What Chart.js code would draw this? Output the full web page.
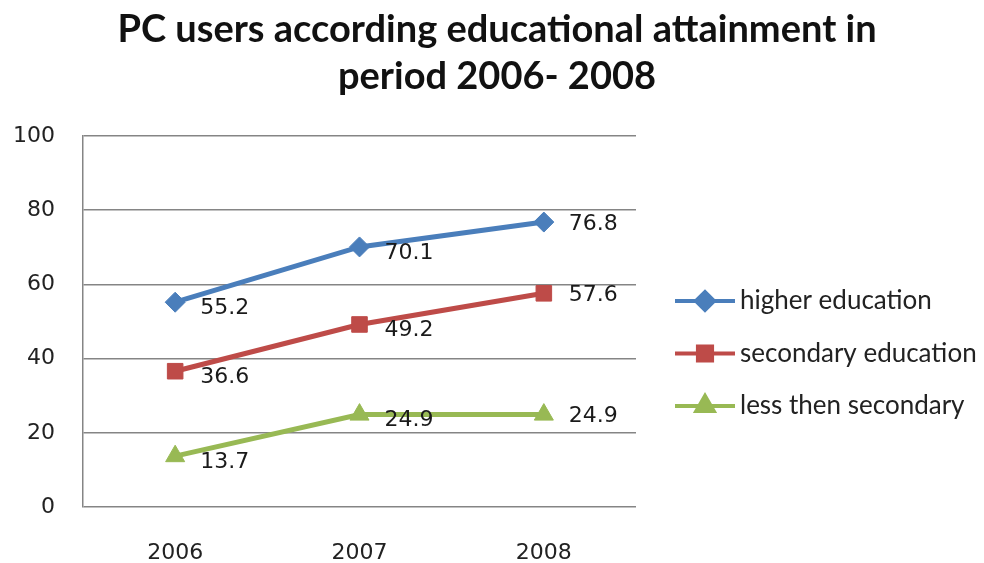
<!DOCTYPE html>
<html>
<head>
<meta charset="utf-8">
<script src="https://cdn.jsdelivr.net/npm/chart.js@4/dist/chart.umd.min.js"></script>
<style>
  html, body { margin: 0; padding: 0; background: #fff; }
  #wrap { width: 984px; height: 563px; }
</style>
</head>
<body>
<div id="wrap"><canvas id="grafica" width="984" height="563"></canvas></div>
<script>
// datos del grafico
const years = ['2006', '2007', '2008'];
const higherEducation = [55.2, 70.1, 76.8];
const secondaryEducation = [36.6, 49.2, 57.6];
const lessThenSecondary = [13.7, 24.9, 24.9];
const seriesNames = ['higher education', 'secondary education', 'less then secondary'];
const yTicks = [0, 20, 40, 60, 80, 100];
const titulo = ['PC users according educational attainment in', 'period 2006- 2008'];

const colores = ['#4a7ebb', '#be4b48', '#98b954'];
const marcas = ['rectRot', 'rect', 'triangle'];
const radios = [10, 11, 11];

// titulo centrado sobre todo el lienzo (no solo el area del grafico)
const tituloCentrado = {
    id: 'tituloCentrado',
    afterDraw(chart) {
        const ctx = chart.ctx;
        ctx.save();
        ctx.font = 'bold 34px Lato';
        // ajustar el tamano para que la primera linea mida ~767px
        const w = ctx.measureText(titulo[0]).width;
        const size = Math.round(34 * 767 / w);
        ctx.font = 'bold ' + size + 'px Lato';
        ctx.fillStyle = '#111';
        ctx.textAlign = 'center';
        ctx.textBaseline = 'middle';
        ctx.fillText(titulo[0], 497, 30);
        ctx.fillText(titulo[1], 497, 77);
        ctx.restore();
    }
};

// etiquetas de valor junto a cada punto
const etiquetas = {
    id: 'etiquetas',
    afterDatasetsDraw(chart) {
        const ctx = chart.ctx;
        ctx.save();
        ctx.font = '22px "DejaVu Sans"';
        ctx.fillStyle = '#1a1a1a';
        ctx.textAlign = 'left';
        ctx.textBaseline = 'middle';
        chart.data.datasets.forEach((ds, i) => {
            chart.getDatasetMeta(i).data.forEach((pt, j) => {
                const dy = j === ds.data.length - 1 ? 2 : 6;
                ctx.fillText(ds.data[j].toFixed(1), pt.x + 25, pt.y + dy);
            });
        });
        ctx.restore();
    }
};

// leyenda estilo excel a la derecha
const leyenda = {
    id: 'leyenda',
    afterDraw(chart) {
        const ctx = chart.ctx;
        ctx.save();
        chart.data.datasets.forEach((ds, i) => {
            const y = 301 + i * 52.5;
            ctx.strokeStyle = ds.borderColor;
            ctx.lineWidth = 4;
            ctx.beginPath();
            ctx.moveTo(675, y);
            ctx.lineTo(735, y);
            ctx.stroke();
            Chart.helpers.drawPoint(ctx, {
                pointStyle: ds.pointStyle,
                radius: ds.pointRadius - 1,
                borderWidth: 1
            }, 705, y);
            ctx.fillStyle = ds.borderColor;
            ctx.fill();
            ctx.font = '26px Lato';
            ctx.fillStyle = '#222';
            ctx.textBaseline = 'middle';
            ctx.fillText(ds.label, 740, y);
        });
        ctx.restore();
    }
};

const series = [higherEducation, secondaryEducation, lessThenSecondary];

new Chart(document.getElementById('grafica').getContext('2d'), {
    type: 'line',
    data: {
        labels: years,
        datasets: series.map((s, i) => ({
            label: seriesNames[i],
            data: s,
            borderColor: colores[i],
            backgroundColor: colores[i],
            borderWidth: 5,
            pointStyle: marcas[i],
            pointRadius: radios[i],
            pointBorderWidth: 1,
            tension: 0
        }))
    },
    options: {
        responsive: false,
        animation: false,
        layout: { padding: { left: 0, right: 348, top: 136, bottom: 0 } },
        plugins: {
            legend: { display: false },
            tooltip: { enabled: false },
            title: { display: false }
        },
        scales: {
            x: {
                offset: true,
                grid: { display: false, drawTicks: false },
                border: { display: false },
                ticks: {
                    padding: 33,
                    color: '#222',
                    font: { family: 'DejaVu Sans', size: 22 }
                },
                afterFit: s => { s.height = 56; }
            },
            y: {
                min: 0,
                max: 100,
                afterBuildTicks: s => { s.ticks = yTicks.map(v => ({ value: v })); },
                grid: { color: '#858585', lineWidth: 1.5, drawTicks: false },
                border: { display: true, color: '#858585', width: 1.5 },
                ticks: {
                    padding: 28,
                    color: '#222',
                    font: { family: 'DejaVu Sans', size: 22 }
                },
                afterFit: s => { s.width = 83; }
            }
        }
    },
    plugins: [tituloCentrado, etiquetas, leyenda]
});
</script>
</body>
</html>
